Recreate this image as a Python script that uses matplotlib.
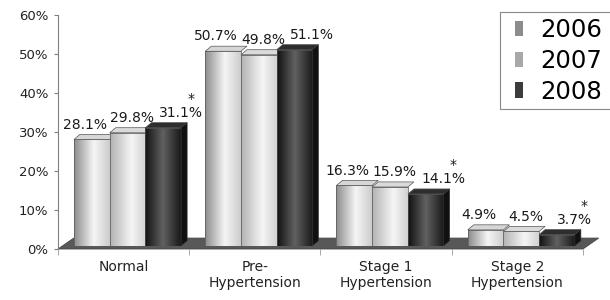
import numpy as np
import matplotlib.pyplot as plt
from matplotlib.patches import Polygon, Patch, Rectangle

# ------------------------------
# data
# ------------------------------
categories = ["Normal", "Pre-\nHypertension", "Stage 1\nHypertension", "Stage 2\nHypertension"]
years = ["2006", "2007", "2008"]
pct_2006 = [28.1, 50.7, 16.3, 4.9]
pct_2007 = [29.8, 49.8, 15.9, 4.5]
pct_2008 = [31.1, 51.1, 14.1, 3.7]
sig_2008 = [True, False, True, True]
yticks = [0, 10, 20, 30, 40, 50, 60]

series = [pct_2006, pct_2007, pct_2008]
stars = [[False] * 4, [False] * 4, sig_2008]

# ------------------------------
# style
# ------------------------------
shades = [
    ([0, 0.55, 1], [0.55, 0.96, 0.80]),
    ([0, 0.6, 1], [0.70, 0.96, 0.82]),
    ([0, 0.5, 1], [0.07, 0.38, 0.10]),
]
cap_cols = ["#d6d6d6", "#dadada", "#2e2e2e"]
leg_cols = ["#8c8c8c", "#a8a8a8", "#3c3c3c"]
lab_off = [-0.294, 0.064, 0.437]

bw = 0.272      # front face width
dx, dy = 0.046, 1.3   # fake depth
y0 = 0.8

fig = plt.figure(figsize=(6.1, 3.0), dpi=100)
ax = fig.add_axes([58 / 610, 51 / 300, 547 / 610, 234 / 300])

# floor
floor = Polygon([(-0.5, 0), (3.5, 0), (3.62, 2.8), (-0.38, 2.8)],
                closed=True, facecolor="#585858", edgecolor="#444444",
                lw=0.6, clip_on=False, zorder=1)
ax.add_patch(floor)

# bars
for i in range(len(categories)):
    for j, vals in enumerate(series):
        v = vals[i]
        x0 = i - 0.5 + 0.122 + j * bw
        pos, lv = shades[j]
        g = np.interp(np.linspace(0, 1, 80), pos, lv)
        z = 2 + j
        ax.imshow(g[None, :], cmap="gray", vmin=0, vmax=1,
                  extent=(x0, x0 + bw, y0, v), aspect="auto",
                  interpolation="bilinear", zorder=z)
        ax.plot([x0, x0, x0 + bw, x0 + bw], [y0, v, v, y0],
                color="#555555", lw=0.5, zorder=z)
        # top face
        top = Polygon([(x0, v), (x0 + bw, v), (x0 + bw + dx, v + dy), (x0 + dx, v + dy)],
                      closed=True, facecolor=cap_cols[j], edgecolor="#555555",
                      lw=0.5, zorder=z)
        ax.add_patch(top)
        if j == len(series) - 1:
            side = Polygon([(x0 + bw, y0), (x0 + bw + dx, y0 + dy),
                            (x0 + bw + dx, v + dy), (x0 + bw, v)],
                           closed=True, facecolor="#111111", edgecolor="#333333",
                           lw=0.5, zorder=z)
            ax.add_patch(side)

        # value label
        lx = i + lab_off[j]
        ly = v + 3.8
        ax.text(lx, ly, f"{v:.1f}%", ha="center", va="center",
                fontsize=10, color="#1a1a1a", zorder=10)
        if stars[j][i]:
            ax.annotate("*", (lx, ly), xytext=(7, 10), textcoords="offset points",
                        ha="center", va="center", fontsize=10, color="#1a1a1a",
                        zorder=10)

# axes
ax.set_xlim(-0.5, 3.668)
ax.set_ylim(0, 60)

ax.set_yticks(yticks)
ax.set_yticklabels([f"{t}%" for t in yticks])
ax.tick_params(axis="y", length=3, color="#808080", labelsize=9.5,
               labelcolor="#222222", pad=4)

ax.set_xticks(range(len(categories)))
ax.set_xticklabels(categories)
ax.set_xticks([-0.5, 0.5, 1.5, 2.5, 3.5], minor=True)
ax.tick_params(axis="x", which="major", length=0, labelsize=10,
               labelcolor="#222222", pad=8)
ax.tick_params(axis="x", which="minor", length=4, color="#999999")

for s in ["top", "right", "bottom"]:
    ax.spines[s].set_visible(False)
ax.spines["left"].set_color("#808080")

# legend (frame drawn by hand, runs off the right edge)
frame = Rectangle((500 / 610, 1 - 109 / 300), 120 / 610, 97 / 300,
                  transform=fig.transFigure, facecolor="white",
                  edgecolor="#888888", lw=0.8, zorder=5)
fig.patches.append(frame)
handles = [Patch(facecolor=c, edgecolor="none") for c in leg_cols]
leg = fig.legend(handles, years, loc="upper left",
                 bbox_to_anchor=(515 / 610, 1 - 18 / 300),
                 fontsize=17.5, frameon=False,
                 handlelength=0.33, handleheight=0.58, handletextpad=0.7,
                 labelspacing=0.28, borderpad=0, borderaxespad=0)
leg.set_zorder(6)

fig.savefig("out.png", dpi=100, facecolor="white")
